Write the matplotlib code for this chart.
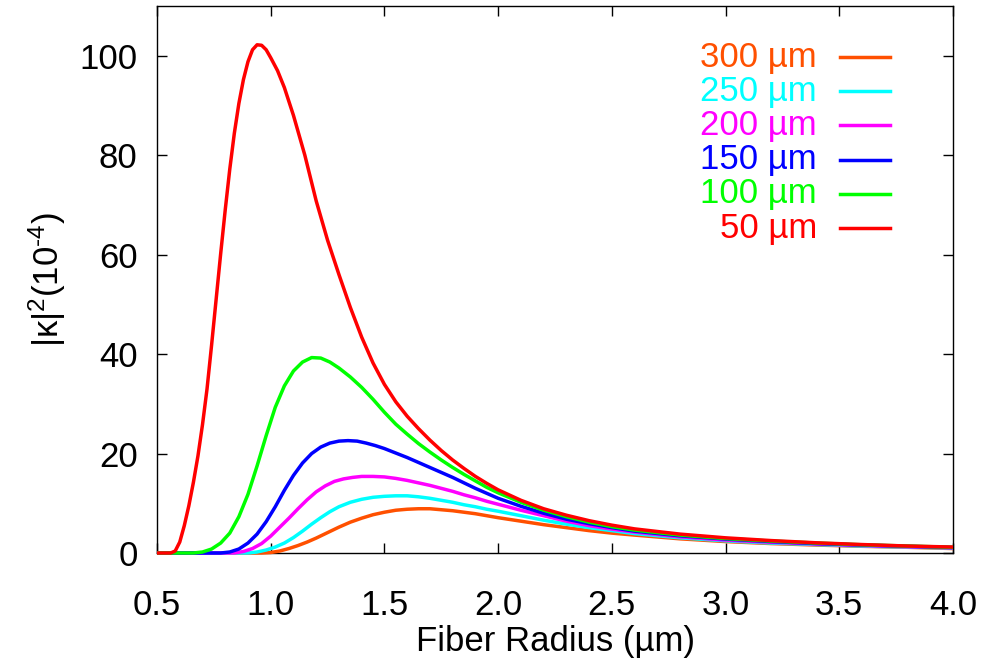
import matplotlib
matplotlib.use("Agg")
import matplotlib.pyplot as plt
from matplotlib.lines import Line2D

plt.rcParams['font.family'] = ['Liberation Sans', 'DejaVu Sans']
plt.rcParams['mathtext.fontset'] = 'custom'
plt.rcParams['mathtext.rm'] = 'Liberation Sans'
plt.rcParams['mathtext.it'] = 'Liberation Sans'

# coupling coefficient vs fiber radius, one curve per fiber separation
labels = ['300 µm', '250 µm', '200 µm', '150 µm', '100 µm', '50 µm']
colors = ['#ff5000', '#00ffff', '#ff00ff', '#0000ff', '#00ff00', '#ff0000']

x_300 = [0.50, 0.96, 1.00, 1.04, 1.08, 1.12, 1.16, 1.20, 1.25, 1.30, 1.35, 1.40, 1.45, 1.50,
         1.55, 1.60, 1.65, 1.70, 1.75, 1.80, 1.85, 1.90, 1.95, 2.00, 2.1, 2.2, 2.3, 2.4, 2.5,
         2.6, 2.8, 3.0, 3.2, 3.4, 3.6, 3.8, 4.0]
k_300 = [0, 0, 0.1, 0.4, 0.9, 1.5, 2.2, 3.0, 4.1, 5.2, 6.2, 7.0, 7.7, 8.2,
         8.6, 8.8, 8.9, 8.9, 8.7, 8.5, 8.2, 7.9, 7.5, 7.1, 6.4, 5.7, 5.1, 4.5, 4.0,
         3.6, 2.85, 2.3, 1.9, 1.6, 1.35, 1.15, 0.9]

x_250 = [0.50, 0.90, 0.94, 0.98, 1.02, 1.06, 1.10, 1.14, 1.18, 1.22, 1.26, 1.30, 1.35, 1.40,
         1.45, 1.50, 1.55, 1.60, 1.65, 1.70, 1.75, 1.80, 1.85, 1.90, 1.95, 2.00, 2.1, 2.2,
         2.3, 2.4, 2.5, 2.6, 2.8, 3.0, 3.2, 3.4, 3.6, 3.8, 4.0]
k_250 = [0, 0, 0.2, 0.6, 1.2, 2.0, 3.1, 4.4, 5.8, 7.1, 8.3, 9.3, 10.2, 10.8,
         11.2, 11.4, 11.5, 11.5, 11.3, 11.0, 10.6, 10.2, 9.7, 9.3, 8.8, 8.4, 7.5, 6.6,
         5.8, 5.1, 4.5, 3.9, 3.05, 2.45, 2.0, 1.7, 1.4, 1.2, 1.0]

x_200 = [0.50, 0.84, 0.88, 0.92, 0.96, 1.00, 1.04, 1.08, 1.12, 1.16, 1.20, 1.24, 1.28, 1.32,
         1.36, 1.40, 1.45, 1.50, 1.55, 1.60, 1.65, 1.70, 1.75, 1.80, 1.85, 1.90, 1.95, 2.00,
         2.1, 2.2, 2.3, 2.4, 2.5, 2.6, 2.8, 3.0, 3.2, 3.4, 3.6, 3.8, 4.0]
k_200 = [0, 0, 0.3, 0.9, 1.9, 3.4, 5.2, 7.0, 8.9, 10.7, 12.3, 13.5, 14.4, 14.9,
         15.2, 15.4, 15.4, 15.3, 15.0, 14.6, 14.1, 13.6, 13.0, 12.4, 11.7, 11.1, 10.4, 9.8,
         8.6, 7.5, 6.4, 5.5, 4.8, 4.2, 3.25, 2.6, 2.15, 1.8, 1.5, 1.25, 1.05]

x_150 = [0.50, 0.78, 0.82, 0.86, 0.90, 0.94, 0.98, 1.02, 1.06, 1.10, 1.14, 1.18, 1.22, 1.26,
         1.30, 1.34, 1.38, 1.42, 1.46, 1.50, 1.55, 1.60, 1.65, 1.70, 1.75, 1.80, 1.85, 1.90,
         1.95, 2.00, 2.1, 2.2, 2.3, 2.4, 2.5, 2.6, 2.8, 3.0, 3.2, 3.4, 3.6, 3.8, 4.0]
k_150 = [0, 0, 0.2, 0.8, 2.0, 3.8, 6.3, 9.3, 12.6, 15.6, 18.1, 20.0, 21.3, 22.1,
         22.5, 22.6, 22.5, 22.1, 21.6, 21.0, 20.1, 19.2, 18.2, 17.2, 16.2, 15.2, 14.1, 13.0,
         12.0, 11.0, 9.4, 8.0, 6.8, 5.9, 5.1, 4.4, 3.45, 2.8, 2.3, 1.9, 1.6, 1.35, 1.1]

x_100 = [0.50, 0.66, 0.70, 0.74, 0.78, 0.82, 0.86, 0.90, 0.94, 0.98, 1.02, 1.06, 1.10, 1.14,
         1.18, 1.22, 1.26, 1.30, 1.35, 1.40, 1.45, 1.50, 1.55, 1.60, 1.65, 1.70, 1.75, 1.80,
         1.85, 1.90, 1.95, 2.00, 2.1, 2.2, 2.3, 2.4, 2.5, 2.6, 2.8, 3.0, 3.2, 3.4, 3.6, 3.8, 4.0]
k_100 = [0, 0, 0.2, 0.8, 2.0, 4.0, 7.3, 11.8, 17.5, 23.6, 29.3, 33.6, 36.6, 38.4,
         39.3, 39.2, 38.4, 37.2, 35.4, 33.3, 30.9, 28.3, 25.9, 23.9, 22.0, 20.3, 18.7, 17.2,
         15.8, 14.5, 13.2, 12.1, 10.2, 8.6, 7.3, 6.2, 5.3, 4.6, 3.6, 2.9, 2.4, 2.0, 1.65, 1.4, 1.15]

x_50 = [0.50, 0.56, 0.58, 0.60, 0.62, 0.64, 0.66, 0.68, 0.70, 0.72, 0.74, 0.76, 0.78, 0.80,
        0.82, 0.84, 0.86, 0.88, 0.90, 0.92, 0.94, 0.96, 0.98, 1.00, 1.03, 1.06, 1.10, 1.15,
        1.20, 1.25, 1.30, 1.35, 1.40, 1.45, 1.50, 1.55, 1.60, 1.65, 1.70, 1.75, 1.80, 1.85,
        1.90, 1.95, 2.00, 2.1, 2.2, 2.3, 2.4, 2.5, 2.6, 2.8, 3.0, 3.2, 3.4, 3.6, 3.8, 4.0]
k_50 = [0, 0, 0.4, 2.2, 5.5, 9.5, 14.2, 19.5, 25.8, 33.0, 41.8, 51.0, 60.2, 69.0,
        77.2, 84.4, 90.4, 95.2, 98.8, 101.2, 102.2, 102.1, 101.2, 99.6, 97.0, 93.6, 88.0, 80.0,
        70.8, 62.9, 56.0, 49.4, 43.4, 38.2, 33.9, 30.4, 27.5, 25.0, 22.7, 20.6, 18.7, 17.0,
        15.4, 14.0, 12.7, 10.6, 8.9, 7.6, 6.5, 5.6, 4.85, 3.8, 3.05, 2.5, 2.05, 1.7, 1.4, 1.2]

xs = [x_300, x_250, x_200, x_150, x_100, x_50]
ks = [k_300, k_250, k_200, k_150, k_100, k_50]

fig = plt.figure(figsize=(9.83, 6.64), dpi=100)
ax = fig.add_axes([157 / 983, 1 - 553 / 664, (953 - 157) / 983, (553 - 6) / 664])

for x, k, c in zip(xs, ks, colors):
    ax.plot(x, k, color=c, lw=2.5, clip_on=False, zorder=3,
            solid_capstyle='butt', solid_joinstyle='round')

ax.set_xlim(0.5, 4.0)
ax.set_ylim(0, 110)
ax.set_xticks([0.5, 1.0, 1.5, 2.0, 2.5, 3.0, 3.5, 4.0])
ax.set_xticklabels(['0.5', '1.0', '1.5', '2.0', '2.5', '3.0', '3.5', '4.0'])
ax.set_yticks([0, 20, 40, 60, 80, 100])
ax.tick_params(direction='in', length=7, width=1.0, labelsize=25,
               top=True, right=True)
ax.tick_params(axis='x', pad=26)
ax.tick_params(axis='y', pad=14)
for s in ax.spines.values():
    s.set_linewidth(1.0)

ax.set_xlabel('Fiber Radius (µm)', fontsize=25, labelpad=2)
ax.set_ylabel(r'$\mathregular{|\kappa|^2(10^{\text{-}4})}$', fontsize=25, labelpad=8)

# key: coloured labels right-aligned, short line sample to the right
for i, (lab, c) in enumerate(zip(labels, colors)):
    yf = 1 - (57 + 34.2 * i) / 664
    fig.text(817 / 983, yf, lab, color=c, fontsize=25, ha='right', va='center')
    fig.add_artist(Line2D([840 / 983, 890 / 983], [yf, yf], color=c, lw=2.5,
                          transform=fig.transFigure))

fig.savefig('out.png', dpi=100)
